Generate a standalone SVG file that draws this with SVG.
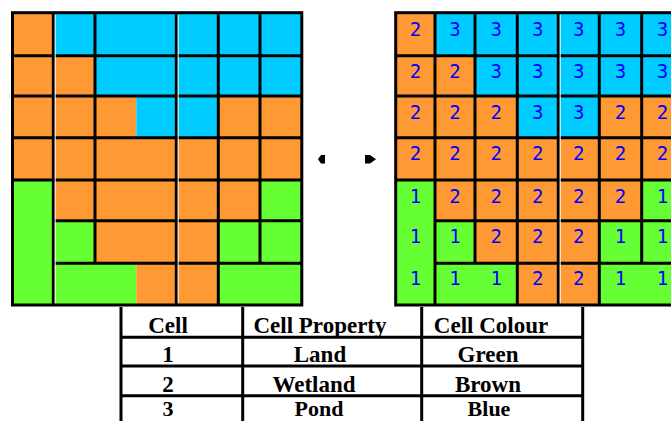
<svg xmlns="http://www.w3.org/2000/svg" width="671" height="421" viewBox="0 0 671 421">
<style>
.o{fill:#FF9933}.b{fill:#00CCFF}.g{fill:#66FF33}
.ln{stroke:#000;stroke-width:3;fill:none}
.wl{stroke:#fff;stroke-width:1;fill:none}
.n{font-family:"DejaVu Sans Mono","Liberation Mono",monospace;font-size:19px;fill:#0000FF;text-anchor:middle}
.t{font-family:"Liberation Serif","Times New Roman",serif;font-size:23px;font-weight:bold;fill:#000;text-anchor:middle}
.tl{font-size:22px}
.ar{fill:#000}
</style>
<rect width="671" height="421" fill="#fff"/>

<g id="grid-left">
<rect class="o" x="12.5" y="12.7" width="41" height="43"/>
<rect class="b" x="53.5" y="12.7" width="248.5" height="43"/>
<rect class="o" x="12.5" y="55.7" width="82.5" height="40.3"/>
<rect class="b" x="95" y="55.7" width="207" height="40.3"/>
<rect class="o" x="12.5" y="96" width="123.8" height="41.7"/>
<rect class="b" x="136.3" y="96" width="82" height="41.7"/>
<rect class="o" x="218.3" y="96" width="83.7" height="41.7"/>
<rect class="o" x="12.5" y="137.7" width="289.5" height="42.3"/>
<rect class="g" x="12.5" y="180" width="41" height="125"/>
<rect class="o" x="53.5" y="180" width="206.5" height="40.7"/>
<rect class="g" x="260" y="180" width="42" height="40.7"/>
<rect class="g" x="53.5" y="220.7" width="41.5" height="42.6"/>
<rect class="o" x="95" y="220.7" width="123.3" height="42.6"/>
<rect class="g" x="218.3" y="220.7" width="83.7" height="42.6"/>
<rect class="g" x="53.5" y="263.3" width="82.8" height="41.7"/>
<rect class="o" x="136.3" y="263.3" width="82" height="41.7"/>
<rect class="g" x="218.3" y="263.3" width="83.7" height="41.7"/>
<path class="ln" d="M53.3 12.7V305M95 12.7V263.3M176.3 12.7V305M218.3 12.7V305M260 12.7V263.3"/>
<path class="ln" d="M12.5 55.7H302M12.5 96H302M12.5 137.7H302M12.5 180H302M53.3 220.7H302M53.3 263.3H302"/>
<path class="wl" d="M55.2 14.5V303.5M178.2 14.5V303.5"/>
<rect class="ln" x="12.5" y="12.7" width="289.3" height="292.3"/>
</g>

<g id="grid-right">
<rect class="o" x="395.7" y="12.7" width="39.3" height="43"/>
<rect class="b" x="435" y="12.7" width="250" height="43"/>
<rect class="o" x="395.7" y="55.7" width="79.3" height="40.3"/>
<rect class="b" x="475" y="55.7" width="210" height="40.3"/>
<rect class="o" x="395.7" y="96" width="121.6" height="41.7"/>
<rect class="b" x="517.3" y="96" width="82" height="41.7"/>
<rect class="o" x="599.3" y="96" width="85.7" height="41.7"/>
<rect class="o" x="395.7" y="137.7" width="289.3" height="42.3"/>
<rect class="g" x="395.7" y="180" width="39.3" height="125"/>
<rect class="o" x="435" y="180" width="206.7" height="40.7"/>
<rect class="g" x="641.7" y="180" width="43.3" height="40.7"/>
<rect class="g" x="435" y="220.7" width="40" height="42.6"/>
<rect class="o" x="475" y="220.7" width="124.3" height="42.6"/>
<rect class="g" x="599.3" y="220.7" width="85.7" height="42.6"/>
<rect class="g" x="435" y="263.3" width="82.3" height="41.7"/>
<rect class="o" x="517.3" y="263.3" width="82" height="41.7"/>
<rect class="g" x="599.3" y="263.3" width="85.7" height="41.7"/>
<path class="ln" d="M435 12.7V305M475 12.7V263.3M517.3 12.7V305M558.3 12.7V305M599.3 12.7V305M641.7 12.7V263.3"/>
<path class="ln" d="M395.7 55.7H685M395.7 96H685M395.7 137.7H685M395.7 180H685M435 220.7H685M435 263.3H685"/>
<path class="wl" d="M560.2 14.5V303.5"/>
<rect class="ln" x="395.7" y="12.7" width="290" height="292.3"/>
<text class="n" x="415.4" y="36">2</text><text class="n" x="455" y="36">3</text><text class="n" x="496.2" y="36">3</text><text class="n" x="537.8" y="36">3</text><text class="n" x="578.8" y="36">3</text><text class="n" x="620.5" y="36">3</text><text class="n" x="662.4" y="36">3</text>
<text class="n" x="415.4" y="78">2</text><text class="n" x="455" y="78">2</text><text class="n" x="496.2" y="78">3</text><text class="n" x="537.8" y="78">3</text><text class="n" x="578.8" y="78">3</text><text class="n" x="620.5" y="78">3</text><text class="n" x="662.4" y="78">3</text>
<text class="n" x="415.4" y="119">2</text><text class="n" x="455" y="119">2</text><text class="n" x="496.2" y="119">2</text><text class="n" x="537.8" y="119">3</text><text class="n" x="578.8" y="119">3</text><text class="n" x="620.5" y="119">2</text><text class="n" x="662.4" y="119">2</text>
<text class="n" x="415.4" y="160">2</text><text class="n" x="455" y="160">2</text><text class="n" x="496.2" y="160">2</text><text class="n" x="537.8" y="160">2</text><text class="n" x="578.8" y="160">2</text><text class="n" x="620.5" y="160">2</text><text class="n" x="662.4" y="160">2</text>
<text class="n" x="415.4" y="203">1</text><text class="n" x="455" y="203">2</text><text class="n" x="496.2" y="203">2</text><text class="n" x="537.8" y="203">2</text><text class="n" x="578.8" y="203">2</text><text class="n" x="620.5" y="203">2</text><text class="n" x="662.4" y="203">1</text>
<text class="n" x="415.4" y="243">1</text><text class="n" x="455" y="243">1</text><text class="n" x="496.2" y="243">2</text><text class="n" x="537.8" y="243">2</text><text class="n" x="578.8" y="243">2</text><text class="n" x="620.5" y="243">1</text><text class="n" x="662.4" y="243">1</text>
<text class="n" x="415.4" y="285">1</text><text class="n" x="455" y="285">1</text><text class="n" x="496.2" y="285">1</text><text class="n" x="537.8" y="285">2</text><text class="n" x="578.8" y="285">2</text><text class="n" x="620.5" y="285">1</text><text class="n" x="662.4" y="285">1</text>
</g>

<g id="connectors">
<polygon class="ar" points="325,155 321,155 318,159.2 321,163.5 325,163.5"/>
<polygon class="ar" points="365,155 370,155 376,159.2 370,163.5 365,163.5"/>
</g>

<g id="legend-table">
<path class="ln" d="M121 307V421M242.7 307V421M421.7 307V421M582.7 307V421"/>
<path class="ln" d="M121 337.3H582.7M121 366H582.7M121 395.7H582.7"/>
<text class="t" x="168" y="333">Cell</text>
<text class="t" x="320" y="333">Cell Property</text>
<text class="t" x="491" y="333">Cell Colour</text>
<text class="t" x="168" y="362">1</text>
<text class="t" x="320" y="362">Land</text>
<text class="t" x="488" y="362">Green</text>
<text class="t" x="168" y="391.5">2</text>
<text class="t" x="314" y="391.5">Wetland</text>
<text class="t" x="488" y="391.5">Brown</text>
<text class="t tl" x="168" y="416">3</text>
<text class="t tl" x="319" y="416">Pond</text>
<text class="t tl" x="489" y="416">Blue</text>
</g>
</svg>
